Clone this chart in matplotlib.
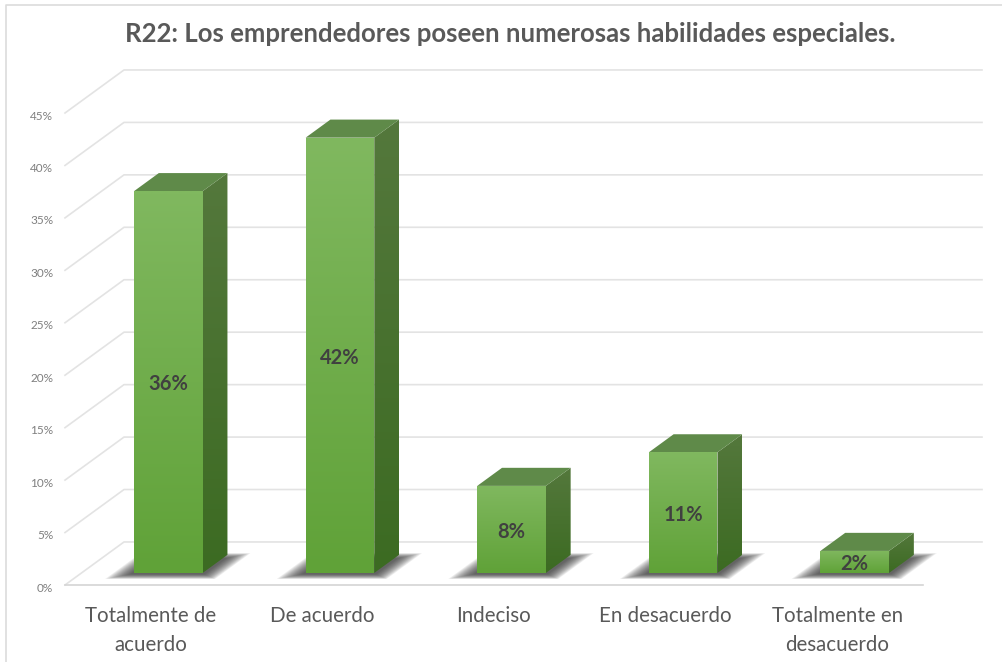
import matplotlib
matplotlib.use('Agg')
import matplotlib.pyplot as plt
from matplotlib.lines import Line2D
from matplotlib.patches import Polygon
from matplotlib.transforms import ScaledTranslation
import numpy as np

TITLE = 'R22: Los emprendedores poseen numerosas habilidades especiales.'
categories = ['Totalmente de\nacuerdo', 'De acuerdo', 'Indeciso', 'En desacuerdo', 'Totalmente en\ndesacuerdo']
values = [36.4, 41.5, 8.3, 11.5, 2.1]
value_labels = ['36%', '42%', '8%', '11%', '2%']
y_ticks = [0, 5, 10, 15, 20, 25, 30, 35, 40, 45]

# fake 3d: how far the back wall sits from the front floor edge, in data units
DEPTH_X = 59 / 171.6
DEPTH_Y = 43 / 10.48
BAR_FRONT = 0.28
BAR_BACK = 0.70
BAR_HALF = 0.2
BAR_SHIFT = 0.006
GRID = '#e3e3e3'
TEXT = '#595959'

plt.rcParams['font.family'] = ['Lato', 'DejaVu Sans']


def project(x, y, d):
    return x + d * DEPTH_X, y + d * DEPTH_Y


def gradient_face(ax, corners, top, bottom, zorder):
    # vertical gradient clipped to the face outline
    grad = np.linspace(0, 1, 64)[:, None, None]
    img = np.array(top)[None, None, :] * (1 - grad) + np.array(bottom)[None, None, :] * grad
    xs = [c[0] for c in corners]
    ys = [c[1] for c in corners]
    im = ax.imshow(img / 255.0, extent=(min(xs), max(xs), min(ys), max(ys)), origin='upper',
                   aspect='auto', zorder=zorder, interpolation='bilinear')
    clip = Polygon(corners, closed=True, transform=ax.transData, fc='none', ec='none')
    ax.add_patch(clip)
    im.set_clip_path(clip)


def draw_shadow(ax, i):
    # soft shadow from stacked polygons, biggest first
    for k in range(16):
        grow = (15 - k) / 15.0
        left = i + BAR_SHIFT - BAR_HALF - 0.01 - grow * 0.11
        right = i + BAR_SHIFT + BAR_HALF + 0.02 + grow * 0.1
        f = 0.25 - grow * 0.11
        b = 0.62 + grow * 0.12
        corners = [project(left, 0, f), project(right, 0, f), project(right, 0, b), project(left, 0, b)]
        ax.add_patch(Polygon(corners, closed=True, fc='#303030', ec='none', alpha=0.08, zorder=3))


def draw_bar(ax, i, v):
    l, r = i + BAR_SHIFT - BAR_HALF, i + BAR_SHIFT + BAR_HALF
    fl0, fl1 = project(l, 0, BAR_FRONT), project(l, v, BAR_FRONT)
    fr0, fr1 = project(r, 0, BAR_FRONT), project(r, v, BAR_FRONT)
    br0, br1 = project(r, 0, BAR_BACK), project(r, v, BAR_BACK)
    bl1 = project(l, v, BAR_BACK)
    gradient_face(ax, [fr0, br0, br1, fr1], (84, 120, 60), (60, 107, 34), 4)
    ax.add_patch(Polygon([fl1, fr1, br1, bl1], closed=True, fc='#5f8a49', ec='none', zorder=5))
    gradient_face(ax, [fl0, fr0, fr1, fl1], (128, 184, 95), (96, 162, 56), 6)
    ax.text((fl0[0] + fr0[0]) / 2, (fl0[1] + fl1[1]) / 2 - 0.22, value_labels[i], ha='center', va='center',
            fontsize=14.5, fontweight='bold', color='#404040', zorder=7)


fig = plt.figure(figsize=(10.03, 6.62), dpi=100, facecolor='white')
# only the left and top edges of the pasted frame are in the picture
fig.add_artist(Line2D([6 / 1003, 6 / 1003, 1], [0, 1 - 5 / 662, 1 - 5 / 662], color='#dcdcdc', lw=1.2))
ax = fig.add_axes([65 / 1003, 77 / 662, 858 / 1003, 472 / 662])
ax.patch.set_visible(False)

for v in y_ticks:
    x0, y0 = project(-0.5, v, 0)
    x1, y1 = project(-0.5, v, 1)
    x2, y2 = project(4.5, v, 1)
    ax.plot([x0, x1, x2], [y0, y1, y2], color=GRID, lw=1.2, zorder=1)
ax.plot([-0.5, 4.5], [0, 0], color='#d4d4d4', lw=1.2, zorder=2)

for i, v in enumerate(values):
    draw_shadow(ax, i)
for i, v in enumerate(values):
    draw_bar(ax, i, v)

ax.set_xlim(-0.5, 4.5)
ax.set_ylim(0, 45)
for name in ax.spines:
    ax.spines[name].set_visible(False)
ax.set_xticks(range(len(categories)))
ax.set_xticklabels(categories, fontsize=14.8, color=TEXT, linespacing=1.6)
ax.set_yticks(y_ticks)
ax.set_yticklabels(['%d%%' % t for t in y_ticks], fontsize=8.5, color='#7f7f7f')
ax.tick_params(axis='x', length=0, pad=15)
ax.tick_params(axis='y', length=0, pad=8.5)
for lab in ax.get_yticklabels():
    lab.set_transform(lab.get_transform() + ScaledTranslation(0, -1.5 / 72, fig.dpi_scale_trans))
for line in ax.lines + ax.patches + ax.images + ax.texts:
    if line.get_clip_path() is None:
        line.set_clip_on(False)

fig.text(510 / 1003, 1 - 34 / 662, TITLE, ha='center', va='center', fontsize=18.5,
         fontweight='bold', color=TEXT)

fig.savefig('out.png', dpi=100)
